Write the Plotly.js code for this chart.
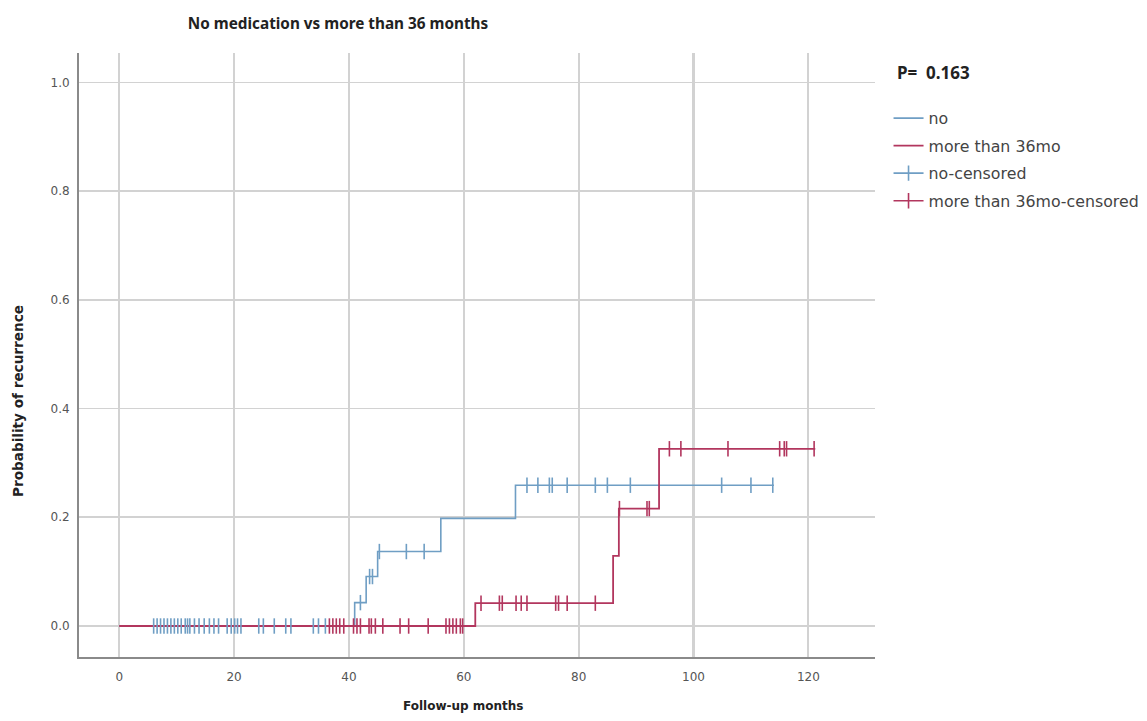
<!DOCTYPE html>
<html>
<head>
<meta charset="utf-8">
<script src="https://cdn.plot.ly/plotly-3.0.1.min.js"></script>
<style>
html,body{margin:0;padding:0;background:#fff;}
#chart{width:1147px;height:721px;}
</style>
</head>
<body>
<div id="chart"></div>
<script>
// Step curves (cumulative probability of recurrence)
const noTime   = [0, 41.0, 43.0, 45.0, 56.0, 69.0, 114.0];
const noProb   = [0, 0.043, 0.091, 0.137, 0.198, 0.259, 0.259];
const moreTime = [0, 62.0, 86.0, 87.0, 94.0, 121.2];
const moreProb = [0, 0.042, 0.129, 0.216, 0.326, 0.326];

// Censored observations
const noCensTime = [6.0, 6.6, 7.2, 7.8, 8.4, 9.0, 9.6, 10.2, 10.8, 11.5, 11.9, 12.3, 13.1, 13.9, 14.8, 15.7, 16.5, 17.3,
  18.8, 19.5, 20.1, 20.6, 21.2, 24.3, 25.1, 27.0, 29.0, 29.9, 33.8, 34.7, 35.9,
  42.0, 43.6, 44.1, 45.3, 50.0, 53.1,
  71.0, 72.9, 74.9, 75.4, 78.0, 82.9, 85.0, 89.0, 104.9, 110.0, 113.8];
const noCensProb = [0,0,0,0,0,0,0,0,0,0,0,0,0,0,0,0,0,0,
  0,0,0,0,0,0,0,0,0,0,0,0,0,
  0.043, 0.091, 0.091, 0.137, 0.137, 0.137,
  0.259,0.259,0.259,0.259,0.259,0.259,0.259,0.259,0.259,0.259,0.259];
const moreCensTime = [36.6, 37.2, 37.8, 38.4, 39.1, 40.8, 41.4, 42.0, 43.5, 43.9, 44.6, 45.9, 48.9, 50.4, 53.8,
  56.9, 57.5, 58.1, 58.7, 59.4, 59.8,
  63.0, 66.2, 66.7, 69.1, 70.0, 71.0, 76.0, 76.5, 78.0, 82.9,
  87.1, 91.9, 92.3,
  95.8, 97.8, 106.0, 115.0, 115.8, 116.2, 121.0];
const moreCensProb = [0,0,0,0,0,0,0,0,0,0,0,0,0,0,0,
  0,0,0,0,0,0,
  0.042,0.042,0.042,0.042,0.042,0.042,0.042,0.042,0.042,0.042,
  0.216,0.216,0.216,
  0.326,0.326,0.326,0.326,0.326,0.326,0.326];

const xTicks = [0, 20, 40, 60, 80, 100, 120];
const yTicks = [0, 0.2, 0.4, 0.6, 0.8, 1.0];
const yTickText = ['0.0', '0.2', '0.4', '0.6', '0.8', '1.0'];

const seriesNames = ['no', 'more than 36mo', 'no-censored', 'more than 36mo-censored'];
const titleText = 'No medication vs more than 36 months';
const xTitle = 'Follow-up months';
const yTitle = 'Probability of recurrence';
const pText = 'P=&nbsp; 0.163';

const BLUE = '#6f9ec4';
const RED = '#b2365e';

// interleave with nulls so censor marks are not connected
function gapped(arr){ const out=[]; arr.forEach(v=>{out.push(v); out.push(null);}); return out; }

const traces = [
  {x: noTime, y: noProb, name: seriesNames[0], mode: 'lines', line: {shape: 'hv', color: BLUE, width: 1.6}, legendgroup: 'a'},
  {x: moreTime, y: moreProb, name: seriesNames[1], mode: 'lines', line: {shape: 'hv', color: RED, width: 1.8}, legendgroup: 'b'},
  {x: gapped(noCensTime), y: gapped(noCensProb), name: seriesNames[2], mode: 'lines+markers', connectgaps: false,
   line: {color: BLUE, width: 1.6},
   marker: {symbol: 'line-ns-open', size: 11, line: {color: BLUE, width: 1.6}}, legendgroup: 'c'},
  {x: gapped(moreCensTime), y: gapped(moreCensProb), name: seriesNames[3], mode: 'lines+markers', connectgaps: false,
   line: {color: RED, width: 1.6},
   marker: {symbol: 'line-ns-open', size: 11, line: {color: RED, width: 1.6}}, legendgroup: 'd'}
];

const layout = {
  width: 1147, height: 721,
  paper_bgcolor: '#ffffff', plot_bgcolor: '#ffffff',
  margin: {l: 79, r: 272, t: 53, b: 64, autoexpand: false},
  font: {family: 'DejaVu Sans, sans-serif', color: '#555'},
  title: {text: titleText, x: 338/1147, xanchor: 'center', y: 1 - 24/721, yanchor: 'middle',
          font: {family: 'Noto Sans, sans-serif', size: 15.3, color: '#222', weight: 'bold'}},
  xaxis: {range: [-7, 131.6], tickvals: xTicks, ticktext: xTicks.map(String),
          showgrid: true, gridcolor: '#d2d2d2', gridwidth: 2.2, zeroline: false,
          showline: true, linecolor: '#8a8a8a', linewidth: 2,
          ticks: 'outside', ticklen: 8, tickcolor: 'rgba(0,0,0,0)',
          tickfont: {size: 12, color: '#555'}},
  yaxis: {range: [-0.057, 1.054], tickvals: yTicks, ticktext: yTickText,
          showgrid: true, gridcolor: '#d2d2d2', gridwidth: 1.6, zeroline: false,
          showline: true, linecolor: '#8a8a8a', linewidth: 2,
          ticks: 'outside', ticklen: 5, tickcolor: 'rgba(0,0,0,0)',
          tickfont: {size: 12, color: '#555'}},
  showlegend: true,
  legend: {x: 1.017, xanchor: 'left', y: 0.92, yanchor: 'top', bgcolor: 'rgba(0,0,0,0)',
           traceorder: 'grouped', tracegroupgap: 4, itemwidth: 30,
           font: {family: 'DejaVu Sans, sans-serif', size: 15.8, color: '#444'}},
  annotations: [
    {text: pText, xref: 'paper', yref: 'paper', x: (895-79)/796, y: (657-73)/604, xanchor: 'left', yanchor: 'middle',
     showarrow: false, font: {family: 'Noto Sans, sans-serif', size: 17, color: '#222', weight: 'bold'}},
    {text: yTitle, xref: 'paper', yref: 'paper', x: (18-79)/796, y: (657-401)/604, xanchor: 'center', yanchor: 'middle',
     textangle: -90, showarrow: false, font: {family: 'DejaVu Sans, sans-serif', size: 13.6, color: '#222', weight: 'bold'}},
    {text: xTitle, xref: 'paper', yref: 'paper', x: (463-79)/796, y: (657-706)/604, xanchor: 'center', yanchor: 'middle',
     showarrow: false, font: {family: 'DejaVu Sans, sans-serif', size: 12, color: '#222', weight: 'bold'}}
  ]
};

Plotly.newPlot('chart', traces, layout, {displayModeBar: false, staticPlot: true});
</script>
</body>
</html>
